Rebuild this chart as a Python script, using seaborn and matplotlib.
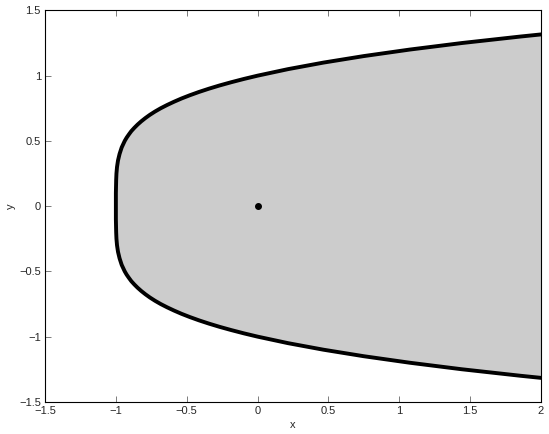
import numpy as np
import pandas as pd
import matplotlib
matplotlib.use("Agg")
import matplotlib.pyplot as plt
import seaborn as sns

# boundary of the shaded region (upper half), lower half is the mirror
upper_y = [0.0, 0.1, 0.2, 0.25, 0.3, 0.35, 0.4, 0.45, 0.5, 0.525, 0.55, 0.575, 0.6,
           0.625, 0.65, 0.675, 0.7, 0.725, 0.75, 0.775, 0.8, 0.825, 0.85, 0.875, 0.9,
           0.925, 0.95, 0.975, 1.0, 1.05, 1.1, 1.15, 1.2, 1.25, 1.3, 1.316]
upper_x = [-1.0, -1.0, -0.998, -0.996, -0.992, -0.985, -0.974, -0.959, -0.9375, -0.924,
           -0.908, -0.891, -0.87, -0.847, -0.821, -0.792, -0.76, -0.724, -0.684, -0.639,
           -0.59, -0.537, -0.478, -0.414, -0.344, -0.268, -0.185, -0.096, 0.0, 0.215,
           0.464, 0.749, 1.074, 1.441, 1.856, 2.0]

# marked point
pt_x = [0.0]
pt_y = [0.0]

xticks = [-1.5, -1, -0.5, 0, 0.5, 1, 1.5, 2]
yticks = [-1.5, -1, -0.5, 0, 0.5, 1, 1.5]

# full closed boundary from bottom to top
bx = upper_x[::-1] + upper_x[1:]
by = [-v for v in upper_y[::-1]] + upper_y[1:]
boundary = pd.DataFrame({"x": bx, "y": by})

sns.set_style("ticks")
plt.rcParams["font.family"] = ["Liberation Sans", "DejaVu Sans"]

fig = plt.figure(figsize=(5.49, 4.34), dpi=100)
ax = fig.add_axes([0.082, 0.074, 0.9035, 0.902])

ax.fill_betweenx(boundary["y"], boundary["x"], 2.0, color="#cccccc", linewidth=0, zorder=1)
sns.lineplot(data=boundary, x="x", y="y", sort=False, estimator=None,
             color="black", linewidth=2.8, ax=ax, zorder=3)
ax.plot(pt_x, pt_y, marker="o", color="black", markersize=4, linestyle="none", zorder=4)

ax.set_xlim(-1.5, 2)
ax.set_ylim(-1.5, 1.5)
ax.set_xticks(xticks)
ax.set_yticks(yticks)
ax.set_xticklabels(["\u22121.5", "\u22121", "\u22120.5", "0", "0.5", "1", "1.5", "2"])
ax.set_yticklabels(["\u22121.5", "\u22121", "\u22120.5", "0", "0.5", "1", "1.5"])
ax.tick_params(direction="in", length=4, width=0.6, labelsize=8, top=True, right=False,
               color="#666666", pad=3)
for s in ax.spines.values():
    s.set_linewidth(0.8)
    s.set_color("black")
ax.set_xlabel("x", fontsize=8, labelpad=3)
ax.set_ylabel("y", fontsize=8, labelpad=2)

fig.savefig("out.png", dpi=100)
